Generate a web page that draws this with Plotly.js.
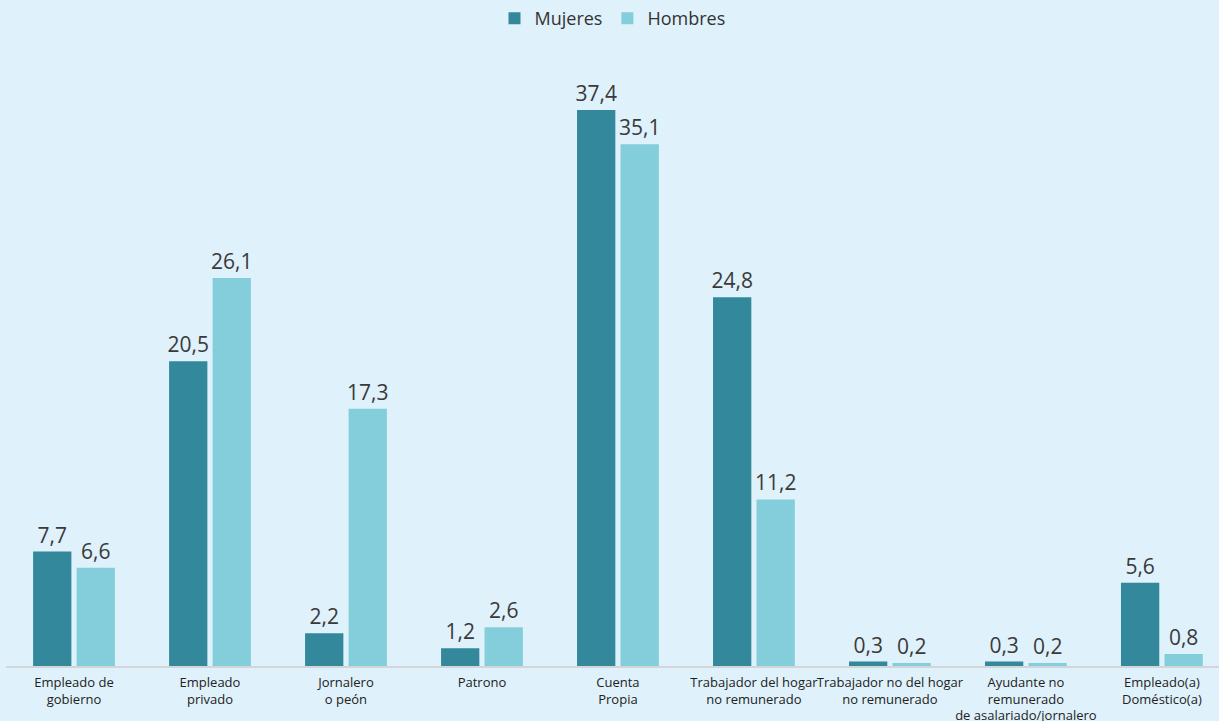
<!DOCTYPE html>
<html>
<head>
<meta charset="utf-8">
<script src="https://cdn.plot.ly/plotly-3.0.1.min.js"></script>
<style>html,body{margin:0;padding:0;background:#dff1fa;}#chart{width:1219px;height:721px;}</style>
</head>
<body>
<div id="chart"></div>
<script>
const categories = [
  "Empleado de<br>gobierno",
  "Empleado<br>privado",
  "Jornalero<br>o peón",
  "Patrono",
  "Cuenta<br>Propia",
  "Trabajador del hogar<br>no remunerado",
  "Trabajador no del hogar<br>no remunerado",
  "Ayudante no<br>remunerado<br>de asalariado/jornalero",
  "Empleado(a)<br>Doméstico(a)"
];
const mujeres = [7.7, 20.5, 2.2, 1.2, 37.4, 24.8, 0.3, 0.3, 5.6];
const hombres = [6.6, 26.1, 17.3, 2.6, 35.1, 11.2, 0.2, 0.2, 0.8];

const txtFont = {family: "Open Sans, sans-serif", size: 21, color: "#3a3a3a"};
const traces = [
  {type: "bar", name: "Mujeres", x: categories, y: mujeres, marker: {color: "#33889c"},
   texttemplate: "%{y:.1f}", textposition: "outside", constraintext: "none", textfont: txtFont,
   cliponaxis: false, hoverinfo: "none"},
  {type: "bar", name: "Hombres", x: categories, y: hombres, marker: {color: "#84cdda"},
   texttemplate: "%{y:.1f}", textposition: "outside", constraintext: "none", textfont: txtFont,
   cliponaxis: false, hoverinfo: "none"}
];
const layout = {
  width: 1219, height: 721,
  paper_bgcolor: "#dff1fa", plot_bgcolor: "#dff1fa",
  separators: ",.",
  margin: {l: 6, r: 0, t: 45, b: 55},
  barmode: "group", bargap: 0.36, bargroupgap: 0.12,
  font: {family: "Open Sans, sans-serif", color: "#222"},
  showlegend: true,
  legend: {orientation: "h", x: 0.5, xanchor: "center", y: 1.015, yanchor: "bottom",
           font: {size: 18, color: "#333"}, bgcolor: "rgba(0,0,0,0)"},
  xaxis: {type: "category", range: [-0.5, 8.42], showgrid: false, showline: true,
          linecolor: "#d3d6d8", linewidth: 2, ticks: "", tickfont: {size: 13, color: "#222"},
          ticklabelstandoff: 3, tickangle: 0, fixedrange: true},
  yaxis: {range: [0, 41.7], visible: false, showgrid: false, zeroline: false, fixedrange: true}
};
Plotly.newPlot("chart", traces, layout, {displayModeBar: false, staticPlot: true});
</script>
</body>
</html>
